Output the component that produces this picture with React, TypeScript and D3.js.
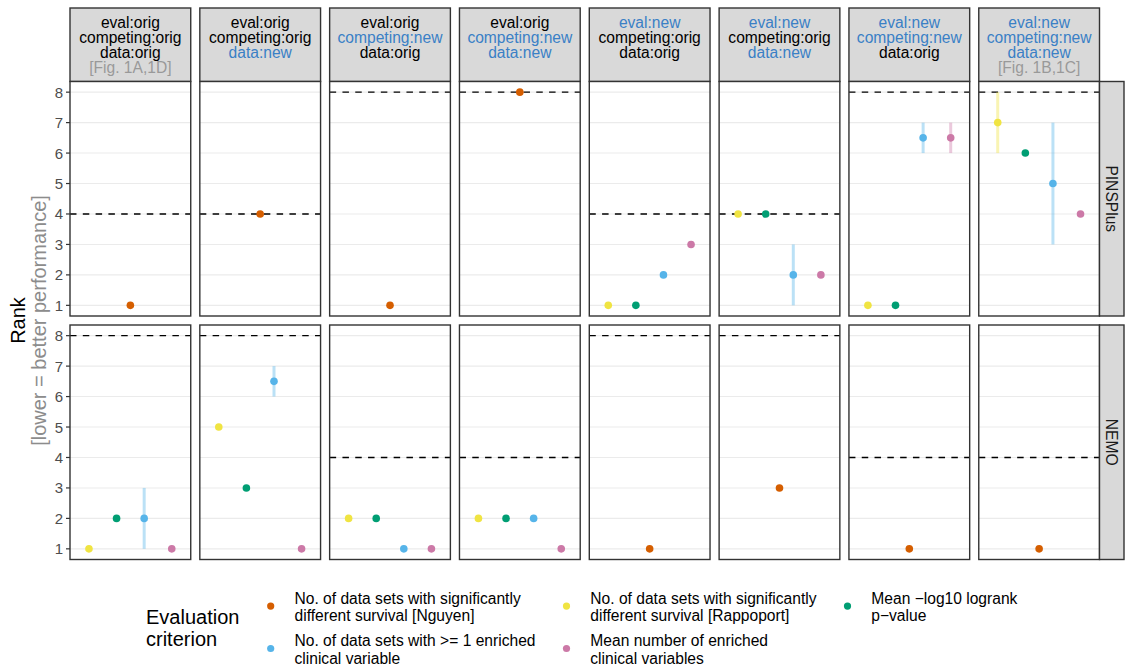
import React from "react";
import * as d3 from "d3";

// ---- facet settings (columns) ----
const evalSetting = ["orig", "orig", "orig", "orig", "new", "new", "new", "new"];
const competingSetting = ["orig", "orig", "new", "new", "orig", "orig", "new", "new"];
const dataSetting = ["orig", "new", "orig", "new", "orig", "new", "orig", "new"];
const figNotes = ["[Fig. 1A,1D]", "", "", "", "", "", "", "[Fig. 1B,1C]"];

// ---- facet rows ----
const datasets = ["PINSPlus", "NEMO"];

// ---- evaluation criteria ----
const criteria = ["nguyen", "rappoport", "logrank", "enrichedAny", "enrichedMean"];
const criterionColors = ["#D55E00", "#F0E442", "#009E73", "#56B4E9", "#CC79A7"];
const criterionLabels = [
  ["No. of data sets with significantly", "different survival [Nguyen]"],
  ["No. of data sets with significantly", "different survival [Rappoport]"],
  ["Mean \u2212log10 logrank", "p\u2212value"],
  ["No. of data sets with >= 1 enriched", "clinical variable"],
  ["Mean number of enriched", "clinical variables"],
];
// dodge order inside a panel
const dodgeOrder = ["rappoport", "logrank", "nguyen", "enrichedAny", "enrichedMean"];

// ---- ranks: [column, criterion, rank, low, high] ----
const pinsPlusRanks: [number, string, number, number, number][] = [
  [0, "nguyen", 1, 1, 1],
  [1, "nguyen", 4, 4, 4],
  [2, "nguyen", 1, 1, 1],
  [3, "nguyen", 8, 8, 8],
  [4, "rappoport", 1, 1, 1],
  [4, "logrank", 1, 1, 1],
  [4, "enrichedAny", 2, 2, 2],
  [4, "enrichedMean", 3, 3, 3],
  [5, "rappoport", 4, 4, 4],
  [5, "logrank", 4, 4, 4],
  [5, "enrichedAny", 2, 1, 3],
  [5, "enrichedMean", 2, 2, 2],
  [6, "rappoport", 1, 1, 1],
  [6, "logrank", 1, 1, 1],
  [6, "enrichedAny", 6.5, 6, 7],
  [6, "enrichedMean", 6.5, 6, 7],
  [7, "rappoport", 7, 6, 8],
  [7, "logrank", 6, 6, 6],
  [7, "enrichedAny", 5, 3, 7],
  [7, "enrichedMean", 4, 4, 4],
];
const nemoRanks: [number, string, number, number, number][] = [
  [0, "rappoport", 1, 1, 1],
  [0, "logrank", 2, 2, 2],
  [0, "enrichedAny", 2, 1, 3],
  [0, "enrichedMean", 1, 1, 1],
  [1, "rappoport", 5, 5, 5],
  [1, "logrank", 3, 3, 3],
  [1, "enrichedAny", 6.5, 6, 7],
  [1, "enrichedMean", 1, 1, 1],
  [2, "rappoport", 2, 2, 2],
  [2, "logrank", 2, 2, 2],
  [2, "enrichedAny", 1, 1, 1],
  [2, "enrichedMean", 1, 1, 1],
  [3, "rappoport", 2, 2, 2],
  [3, "logrank", 2, 2, 2],
  [3, "enrichedAny", 2, 2, 2],
  [3, "enrichedMean", 1, 1, 1],
  [4, "nguyen", 1, 1, 1],
  [5, "nguyen", 3, 3, 3],
  [6, "nguyen", 1, 1, 1],
  [7, "nguyen", 1, 1, 1],
];
const rankTables = [pinsPlusRanks, nemoRanks];

// number of compared methods (worst possible rank) per panel
const pinsPlusMaxRank = [4, 4, 8, 8, 4, 4, 8, 8];
const nemoMaxRank = [8, 8, 4, 4, 8, 8, 4, 4];
const maxRankTables = [pinsPlusMaxRank, nemoMaxRank];

const yTicks = [1, 2, 3, 4, 5, 6, 7, 8];

const FONT = "'Liberation Sans', Arial, Helvetica, sans-serif";
const BLUE_TXT = "#3A80C6";
const GREY_TXT = "#999999";
const BORDER = "#333333";
const BORDER_W = 1.4;

const W = 1126;
const H = 667;
const stripTop = 8;
const stripBottom = 81.5;
const rowExtents: [number, number][] = [
  [81.5, 316],
  [325, 559.5],
];

const colScale = d3
  .scaleBand<number>()
  .domain(d3.range(8))
  .range([70, 1099.5])
  .paddingInner(0.07);

const colorOf = d3.scaleOrdinal<string, string>().domain(criteria).range(criterionColors);

export default function App() {
  const bw = colScale.bandwidth();
  const dodgeWidth = 110.4;

  const settingColor = (v: string) => (v === "new" ? BLUE_TXT : "#000000");

  return (
    <svg
      width={W}
      height={H}
      style={{ position: "absolute", left: 0, top: 0, display: "block", background: "#fff" }}
      fontFamily={FONT}
    >
      {/* column strips */}
      {d3.range(8).map((c) => {
        const x0 = colScale(c)!;
        const cx = x0 + bw / 2;
        const lines: [string, string][] = [
          ["eval:" + evalSetting[c], settingColor(evalSetting[c])],
          ["competing:" + competingSetting[c], settingColor(competingSetting[c])],
          ["data:" + dataSetting[c], settingColor(dataSetting[c])],
        ];
        if (figNotes[c]) lines.push([figNotes[c], GREY_TXT]);
        return (
          <g key={"strip" + c}>
            <rect
              x={x0}
              y={stripTop}
              width={bw}
              height={stripBottom - stripTop}
              fill="#D9D9D9"
              stroke={BORDER}
              strokeWidth={BORDER_W}
            />
            {lines.map(([t, col], i) => (
              <text
                key={i}
                x={cx}
                y={22.3 + i * 15}
                fill={col}
                fontSize={15.6}
                textAnchor="middle"
                dominantBaseline="central"
              >
                {t}
              </text>
            ))}
          </g>
        );
      })}

      {/* panels */}
      {datasets.map((ds, r) => {
        const [top, bottom] = rowExtents[r];
        const y = d3.scaleLinear().domain([0.65, 8.35]).range([bottom, top]);
        const rows = rankTables[r];
        return (
          <g key={ds}>
            {/* y axis */}
            {yTicks.map((t) => (
              <g key={t}>
                <line x1={66} x2={70} y1={y(t)} y2={y(t)} stroke={BORDER} strokeWidth={1.2} />
                <text
                  x={63}
                  y={y(t)}
                  fontSize={15}
                  fill="#4D4D4D"
                  textAnchor="end"
                  dominantBaseline="central"
                >
                  {t}
                </text>
              </g>
            ))}
            {d3.range(8).map((c) => {
              const x0 = colScale(c)!;
              const cx = x0 + bw / 2;
              const pts = rows
                .filter((d) => d[0] === c)
                .sort((a, b) => dodgeOrder.indexOf(a[1]) - dodgeOrder.indexOf(b[1]));
              const dodge = d3
                .scaleBand<string>()
                .domain(pts.map((d) => d[1]))
                .range(pts.length > 1 ? [cx - dodgeWidth / 2, cx + dodgeWidth / 2] : [cx - 10, cx + 10]);
              const px = (k: string) => dodge(k)! + dodge.bandwidth() / 2;
              const maxR = maxRankTables[r][c];
              return (
                <g key={c}>
                  <rect x={x0} y={top} width={bw} height={bottom - top} fill="#ffffff" />
                  {yTicks.map((t) => (
                    <line
                      key={t}
                      x1={x0}
                      x2={x0 + bw}
                      y1={y(t)}
                      y2={y(t)}
                      stroke="#EBEBEB"
                      strokeWidth={1.1}
                    />
                  ))}
                  <line
                    x1={x0}
                    x2={x0 + bw}
                    y1={y(maxR)}
                    y2={y(maxR)}
                    stroke="#000"
                    strokeWidth={1.3}
                    strokeDasharray="6.5,6.3"
                  />
                  {pts
                    .filter((d) => d[3] !== d[4])
                    .map((d) => (
                      <line
                        key={"e" + d[1]}
                        x1={px(d[1])}
                        x2={px(d[1])}
                        y1={y(d[3])}
                        y2={y(d[4])}
                        stroke={colorOf(d[1])}
                        strokeOpacity={0.4}
                        strokeWidth={3}
                      />
                    ))}
                  {pts.map((d) => (
                    <circle key={"p" + d[1]} cx={px(d[1])} cy={y(d[2])} r={3.8} fill={colorOf(d[1])} />
                  ))}
                  <rect
                    x={x0}
                    y={top}
                    width={bw}
                    height={bottom - top}
                    fill="none"
                    stroke={BORDER}
                    strokeWidth={BORDER_W}
                  />
                </g>
              );
            })}
            {/* row strip */}
            <rect
              x={1099.5}
              y={top}
              width={24.5}
              height={bottom - top}
              fill="#D9D9D9"
              stroke={BORDER}
              strokeWidth={BORDER_W}
            />
            <text
              transform={`translate(${1111.5},${(top + bottom) / 2}) rotate(90)`}
              fontSize={15.6}
              fill="#1A1A1A"
              textAnchor="middle"
              dominantBaseline="central"
            >
              {ds}
            </text>
          </g>
        );
      })}

      {/* y axis title */}
      <text
        transform={`translate(18,320.5) rotate(-90)`}
        fontSize={20}
        fill="#000"
        textAnchor="middle"
        dominantBaseline="central"
      >
        Rank
      </text>
      <text
        transform={`translate(38.5,320.5) rotate(-90)`}
        fontSize={20}
        fill="#8C8C8C"
        textAnchor="middle"
        dominantBaseline="central"
      >
        [lower = better performance]
      </text>

      {/* legend */}
      <text x={146} y={617.3} fontSize={20} fill="#000" dominantBaseline="central">
        Evaluation
      </text>
      <text x={146} y={638.5} fontSize={20} fill="#000" dominantBaseline="central">
        criterion
      </text>
      {[
        ["nguyen", 0, 0],
        ["rappoport", 1, 0],
        ["logrank", 2, 0],
        ["enrichedAny", 0, 1],
        ["enrichedMean", 1, 1],
      ].map(([k, col, row]) => {
        const i = criteria.indexOf(k as string);
        const dotX = [270.7, 566.5, 847.5][col as number];
        const baseY = [598.3, 640.7][row as number];
        return (
          <g key={k as string}>
            <circle cx={dotX} cy={baseY + 7.8} r={3.6} fill={criterionColors[i]} />
            {criterionLabels[i].map((t, j) => (
              <text
                key={j}
                x={dotX + 23.8}
                y={baseY + j * 17.5}
                fontSize={15.6}
                fill="#000"
                dominantBaseline="central"
              >
                {t}
              </text>
            ))}
          </g>
        );
      })}
    </svg>
  );
}
